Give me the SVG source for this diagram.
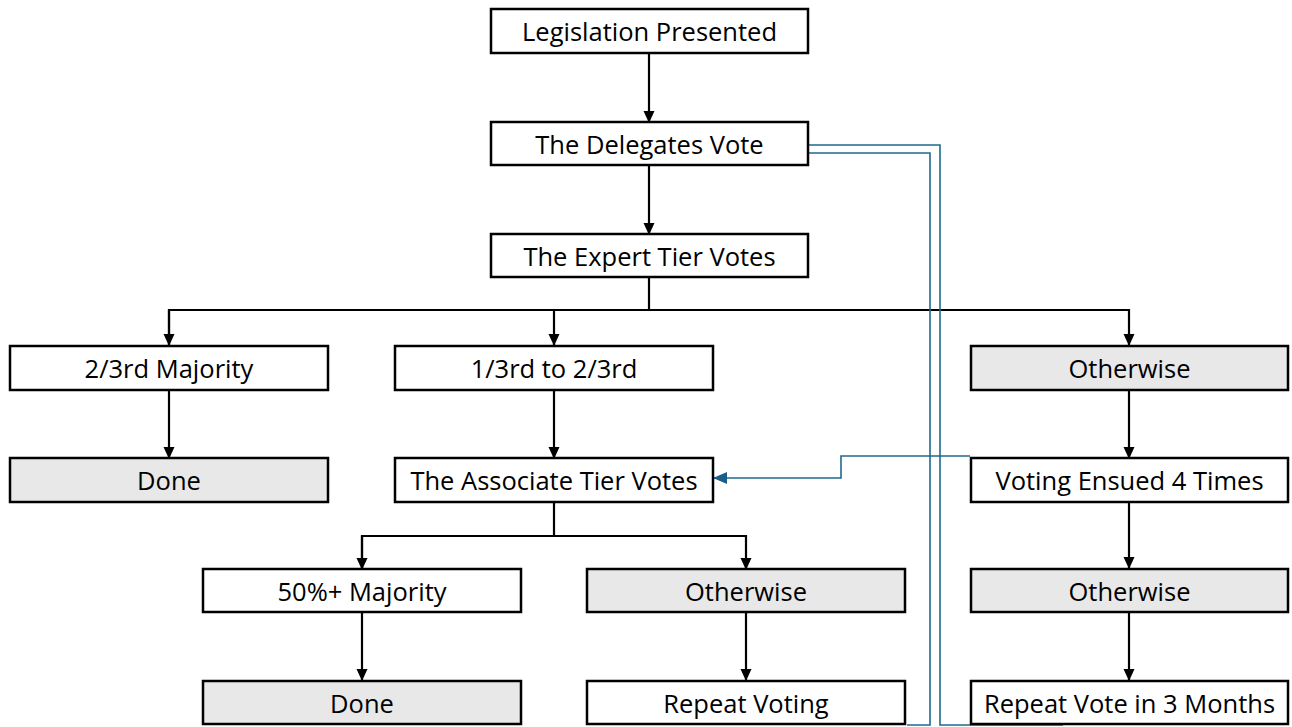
<svg xmlns="http://www.w3.org/2000/svg" width="1292" height="727" viewBox="0 0 1292 727">
<defs>
<style>
.box rect{stroke:#000;stroke-width:2.5;fill:#fff}
.box.g rect{fill:#e8e8e8}
.box text{font-family:"Open Sans","Noto Sans",sans-serif;font-size:25.5px;fill:#000;text-anchor:middle;dominant-baseline:central}
.c{fill:none;stroke:#000;stroke-width:2.2}
.b{fill:none;stroke:#1f6a91;stroke-width:1.6}
</style>
<marker id="ah" markerWidth="12" markerHeight="12" refX="11" refY="6" orient="auto" markerUnits="userSpaceOnUse" viewBox="0 0 12 12"><path d="M0,0.5 L12,6 L0,11.5 z" fill="#000"/></marker>
<marker id="bh" markerWidth="14" markerHeight="14" refX="13" refY="7" orient="auto" markerUnits="userSpaceOnUse" viewBox="0 0 14 14"><path d="M0,1 L14,7 L0,13 z" fill="#1a5e87"/></marker>
</defs>
<rect width="1292" height="727" fill="#fff"/>
<g id="connectors">
<path class="c" d="M649,53 V122" marker-end="url(#ah)"/>
<path class="c" d="M649,165 V234" marker-end="url(#ah)"/>
<path class="c" d="M649,277 V310"/>
<path class="c" d="M169,345 V310 H1129 V345" marker-end="url(#ah)"/>
<path class="c" d="M554,310 V345" marker-end="url(#ah)"/>
<path class="c" d="M169,310 V345" marker-end="url(#ah)"/>
<path class="c" d="M169,390 V458" marker-end="url(#ah)"/>
<path class="c" d="M554,390 V458" marker-end="url(#ah)"/>
<path class="c" d="M1129,390 V458" marker-end="url(#ah)"/>
<path class="c" d="M554,502 V536"/>
<path class="c" d="M362,569 V536 H746 V569" marker-end="url(#ah)"/>
<path class="c" d="M362,536 V569" marker-end="url(#ah)"/>
<path class="c" d="M362,612 V680" marker-end="url(#ah)"/>
<path class="c" d="M746,612 V680" marker-end="url(#ah)"/>
<path class="c" d="M1129,502 V568" marker-end="url(#ah)"/>
<path class="c" d="M1129,612 V680" marker-end="url(#ah)"/>
<path class="b" d="M970,456 H841 V478 H714" marker-end="url(#bh)"/>
<path class="b" d="M907,725 H930 V153 H808"/>
<path class="b" d="M1063,725 H940 V145 H808"/>
</g>
<g id="n1" class="box"><rect x="491" y="9" width="317" height="44"/><text x="649.5" y="31">Legislation Presented</text></g>
<g id="n2" class="box"><rect x="491" y="122" width="317" height="43"/><text x="649.5" y="143.5">The Delegates Vote</text></g>
<g id="n3" class="box"><rect x="491" y="234" width="317" height="43"/><text x="649.5" y="255.5">The Expert Tier Votes</text></g>
<g id="n4" class="box"><rect x="10" y="346" width="318" height="44"/><text x="169" y="368">2/3rd Majority</text></g>
<g id="n5" class="box"><rect x="395" y="346" width="318" height="44"/><text x="554" y="368">1/3rd to 2/3rd</text></g>
<g id="n6" class="box g"><rect x="971" y="346" width="317" height="44"/><text x="1129.5" y="368">Otherwise</text></g>
<g id="n7" class="box g"><rect x="10" y="458" width="318" height="44"/><text x="169" y="480">Done</text></g>
<g id="n8" class="box"><rect x="395" y="458" width="318" height="44"/><text x="554" y="480">The Associate Tier Votes</text></g>
<g id="n9" class="box"><rect x="971" y="458" width="317" height="44"/><text x="1129.5" y="480">Voting Ensued 4 Times</text></g>
<g id="n10" class="box"><rect x="203" y="569" width="318" height="43"/><text x="362" y="590.5">50%+ Majority</text></g>
<g id="n11" class="box g"><rect x="587" y="569" width="318" height="43"/><text x="746" y="590.5">Otherwise</text></g>
<g id="n12" class="box g"><rect x="971" y="569" width="317" height="43"/><text x="1129.5" y="590.5">Otherwise</text></g>
<g id="n13" class="box g"><rect x="203" y="681" width="318" height="43"/><text x="362" y="702.5">Done</text></g>
<g id="n14" class="box"><rect x="587" y="681" width="318" height="43"/><text x="746" y="702.5">Repeat Voting</text></g>
<g id="n15" class="box"><rect x="971" y="681" width="317" height="43"/><text x="1129.5" y="702.5">Repeat Vote in 3 Months</text></g>
</svg>
